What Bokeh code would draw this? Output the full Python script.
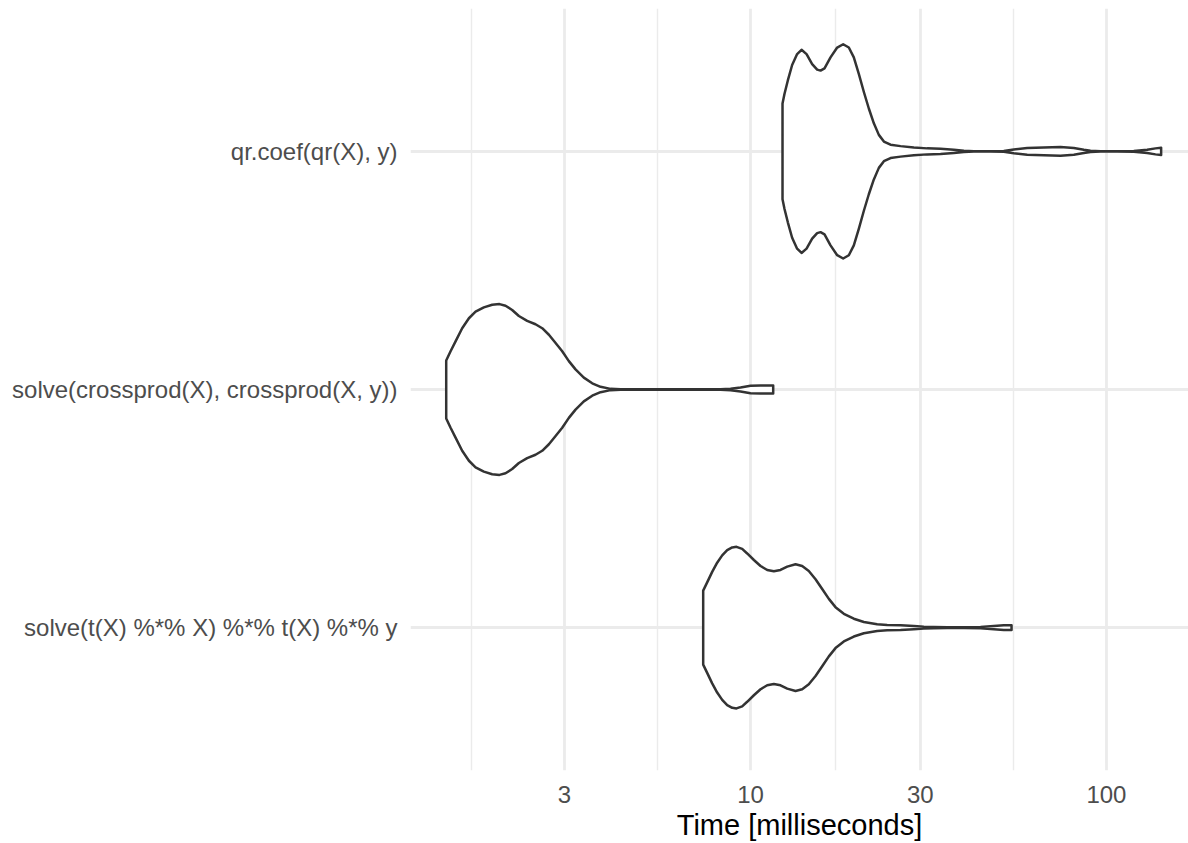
from bokeh.plotting import figure
from bokeh.models import Range1d, FixedTicker, PrintfTickFormatter
from bokeh.embed import file_html
from bokeh.resources import INLINE

# Categories (bottom to top)
categories = [
    "solve(t(X) %*% X) %*% t(X) %*% y",
    "solve(crossprod(X), crossprod(X, y))",
    "qr.coef(qr(X), y)",
]

# Violin profiles: time [ms] and relative density (1 = widest violin)
st_time = [7.362, 7.554, 7.803, 8.059, 8.325, 8.599, 8.882, 9.134, 9.475, 9.786,
           10.22, 10.67, 11.14, 11.63, 12.14, 12.68, 13.38, 13.97, 14.58, 15.23,
           15.90, 16.60, 17.33, 18.29, 19.51, 20.82, 22.69, 24.21, 26.40, 28.77,
           30.69, 32.74, 35.70, 39.76, 44.29, 48.28, 51.50, 54.13]
st_density = [0.345, 0.422, 0.520, 0.606, 0.674, 0.723, 0.748, 0.754, 0.735, 0.692,
              0.631, 0.575, 0.538, 0.526, 0.538, 0.569, 0.591, 0.575, 0.529, 0.452,
              0.360, 0.268, 0.191, 0.129, 0.083, 0.052, 0.031, 0.025, 0.022, 0.015,
              0.009, 0.006, 0.003, 0.003, 0.006, 0.015, 0.022, 0.022]

cp_time = [1.396, 1.436, 1.483, 1.548, 1.617, 1.688, 1.781, 1.880, 1.971, 2.049,
           2.139, 2.234, 2.357, 2.488, 2.598, 2.713, 2.833, 2.957, 3.087, 3.223,
           3.401, 3.591, 3.789, 4.043, 4.312, 5.351, 6.637, 8.236, 8.788, 9.374,
           10.0, 10.67, 11.58]
cp_density = [0.271, 0.357, 0.449, 0.572, 0.665, 0.726, 0.766, 0.791, 0.797, 0.782,
              0.742, 0.686, 0.640, 0.609, 0.572, 0.511, 0.434, 0.357, 0.265, 0.188,
              0.111, 0.058, 0.025, 0.006, 0.003, 0.002, 0.002, 0.003, 0.006, 0.018,
              0.034, 0.037, 0.037]

qr_time = [12.30, 12.46, 12.73, 13.09, 13.52, 13.91, 14.37, 14.90, 15.39, 15.73,
           16.14, 16.78, 17.52, 18.21, 18.89, 19.51, 20.15, 20.82, 21.50, 22.21,
           22.94, 23.70, 24.74, 26.40, 28.77, 31.36, 34.19, 37.27, 39.76, 42.42,
           47.25, 51.50, 54.95, 59.91, 66.73, 74.30, 81.00, 86.43, 90.23, 96.25,
           107.2, 119.4, 130.2, 137.4, 142.5]
qr_density = [0.446, 0.538, 0.662, 0.806, 0.908, 0.948, 0.908, 0.815, 0.763, 0.754,
              0.775, 0.877, 0.969, 1.000, 0.969, 0.877, 0.723, 0.554, 0.400, 0.262,
              0.154, 0.092, 0.062, 0.049, 0.037, 0.028, 0.025, 0.015, 0.006, 0.001,
              0.001, 0.003, 0.018, 0.031, 0.037, 0.040, 0.031, 0.015, 0.006, 0.001,
              0.001, 0.003, 0.015, 0.028, 0.034]

x_ticks = [3, 10, 30, 100]
x_minor_ticks = [1.643, 5.477, 17.32, 54.77]

FONT = "Liberation Sans"

p = figure(width=1188, height=843, x_axis_type="log",
           x_range=Range1d(1.108, 170.1), y_range=Range1d(0.4, 3.6),
           output_backend="svg", toolbar_location=None,
           min_border_left=410, min_border_right=0,
           min_border_top=8, min_border_bottom=71)
p.outline_line_color = None
p.background_fill_color = "white"
p.border_fill_color = "white"

half = 0.45
profiles = [(st_time, st_density), (cp_time, cp_density), (qr_time, qr_density)]
for i, (t, d) in enumerate(profiles):
    c = i + 1
    upper = [c + half * v for v in d]
    lower = [c - half * v for v in d]
    xs = list(t) + list(t)[::-1]
    ys = upper + lower[::-1]
    p.patch(xs, ys, fill_color="white", line_color="#333333", line_width=2.5,
            line_join="round")

# x axis
p.xaxis.ticker = FixedTicker(ticks=x_ticks, minor_ticks=x_minor_ticks)
p.xaxis.formatter = PrintfTickFormatter(format="%d")
p.xaxis.axis_label = "Time [milliseconds]"
p.xaxis.axis_label_text_font = FONT
p.xaxis.axis_label_text_font_size = "29px"
p.xaxis.axis_label_text_font_style = "normal"
p.xaxis.axis_label_text_color = "black"
p.xaxis.axis_label_standoff = 3
p.xaxis.major_label_text_font = FONT
p.xaxis.major_label_text_font_size = "24px"
p.xaxis.major_label_text_color = "#4D4D4D"
p.xaxis.major_label_standoff = 15

# y axis
p.yaxis.ticker = FixedTicker(ticks=[1, 2, 3])
p.yaxis.major_label_overrides = {1: categories[0], 2: categories[1], 3: categories[2]}
p.yaxis.major_label_text_font = FONT
p.yaxis.major_label_text_font_size = "24px"
p.yaxis.major_label_text_color = "#4D4D4D"
p.yaxis.major_label_standoff = 13

for ax in (p.xaxis, p.yaxis):
    ax.axis_line_color = None
    ax.major_tick_line_color = None
    ax.minor_tick_line_color = None
    ax.major_tick_out = 0
    ax.major_tick_in = 0
    ax.minor_tick_out = 0
    ax.minor_tick_in = 0

p.xgrid.grid_line_color = "#EBEBEB"
p.xgrid.grid_line_width = 2.8
p.xgrid.minor_grid_line_color = "#EBEBEB"
p.xgrid.minor_grid_line_width = 1.4
p.ygrid.grid_line_color = "#EBEBEB"
p.ygrid.grid_line_width = 2.8

open("out.html", "w").write(file_html(p, INLINE))
